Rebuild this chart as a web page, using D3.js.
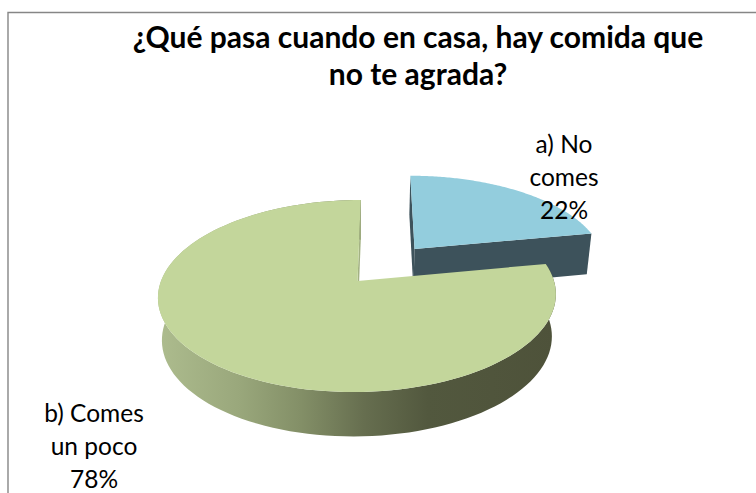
<!DOCTYPE html>
<html lang="es">
<head>
<meta charset="utf-8">
<script src="https://cdnjs.cloudflare.com/ajax/libs/d3/7.8.5/d3.min.js"></script>
<style>
html,body{margin:0;padding:0;background:#fff;overflow:hidden}
svg{display:block}
text{font-family:Lato,"Open Sans",sans-serif;fill:#000}
</style>
</head>
<body>
<svg id="chart" width="756" height="493"></svg>
<script>
const titleLines = ["¿Qué pasa cuando en casa, hay comida que", "no te agrada?"];
const categories = ["a) No comes", "b) Comes un poco"];
const labelLines = [["a) No", "comes"], ["b) Comes", "un poco"]];
const values = [22, 78];
const topColors = ["#93cddd", "#c3d69b"];
const wallColors = ["#3d525b", "#a3b283"];
const explodeAmounts = [0.47, 0];
const labelAnchors = [[564, 153], [94, 422]];
const sideStops = [[0, "#adbc8e"], [0.2, "#9aa87c"], [0.36, "#838f67"], [0.52, "#666e4f"], [0.68, "#52583e"], [1, "#4e523a"]];

const W = 756, H = 493;
const svg = d3.select("#chart").attr("viewBox", [0, 0, W, H]);
svg.append("rect").attr("width", W).attr("height", H).attr("fill", "#fff");

// Chart frame: only the top and left edges fall inside the canvas
svg.append("path").attr("d", d3.line()([[756, 12.5], [8, 12.5], [8, 493]]))
  .attr("fill", "none").attr("stroke", "#868686").attr("stroke-width", 1.4);

// Perspective projection of the unit disc (plus a height level) to the screen
const apex = [357.5, 281], A = 196.5, B = 93.7, K = 0.156, SKEW = 3.8;
const DEPTH = 42, DEPTH_K = 0.1, BOTTOM_SCALE = 0.98;
function project(u, v, level) {
  const w = 1 - K * v;
  const s = level ? BOTTOM_SCALE : 1;
  const drop = level ? DEPTH / (1 - DEPTH_K * v) : 0;
  return [apex[0] + (A * s * u - SKEW * v) / w, apex[1] + B * s * v / w + drop];
}

const arcs = d3.pie().sort(null).value(d => d)(values);
const line = d3.line();

function sliceGeometry(arc, i) {
  const mid = (arc.startAngle + arc.endAngle) / 2;
  const ex = Math.sin(mid) * explodeAmounts[i], ey = -Math.cos(mid) * explodeAmounts[i];
  const angles = d3.range(0, 121).map(t => arc.startAngle + (arc.endAngle - arc.startAngle) * t / 120);
  const rim = level => angles.map(a => project(ex + Math.sin(a), ey - Math.cos(a), level));
  const centre = level => project(ex, ey, level);
  return {rim, centre};
}

const defs = svg.append("defs");
const grad = defs.append("linearGradient").attr("id", "sideShade")
  .attr("gradientUnits", "userSpaceOnUse").attr("x1", 158).attr("x2", 555).attr("y1", 0).attr("y2", 0);
sideStops.forEach(([o, c]) => grad.append("stop").attr("offset", o).attr("stop-color", c));

const slices = svg.append("g");
arcs.forEach((arc, i) => {
  const g = slices.append("g").attr("class", "slice").attr("data-name", categories[i]);
  const {rim, centre} = sliceGeometry(arc, i);
  const top = rim(0), bottom = rim(1);
  const c0 = centre(0), c1 = centre(1);
  const n = top.length - 1;
  if (i === 1) {
    // outer curved side
    g.append("path").attr("d", line(top.concat(bottom.slice().reverse())) + "Z").attr("fill", "url(#sideShade)");
    // cut face along the closing radius
    g.append("path").attr("d", line([c0, top[n], bottom[n], c1]) + "Z").attr("fill", wallColors[i]);
  } else {
    g.append("path").attr("d", line([c0, top[0], bottom[0], c1]) + "Z").attr("fill", wallColors[i]);
    g.append("path").attr("d", line([c0, top[n], bottom[n], c1]) + "Z").attr("fill", wallColors[i]);
  }
  g.append("path").attr("d", line([c0].concat(top)) + "Z").attr("fill", topColors[i]);
});

// Title
svg.append("g").selectAll("text").data(titleLines).join("text")
  .attr("x", 418).attr("y", (d, i) => 48 + i * 37)
  .attr("text-anchor", "middle").attr("font-size", 30).attr("font-weight", 700)
  .text(d => d);

// Data labels: name lines followed by the share
const total = d3.sum(values);
labelLines.forEach((lines, i) => {
  const rows = lines.concat([d3.format(".0%")(values[i] / total)]);
  svg.append("g").selectAll("text").data(rows).join("text")
    .attr("x", labelAnchors[i][0]).attr("y", (d, j) => labelAnchors[i][1] + j * 33)
    .attr("text-anchor", "middle").attr("font-size", 24.5)
    .text(d => d);
});
</script>
</body>
</html>
